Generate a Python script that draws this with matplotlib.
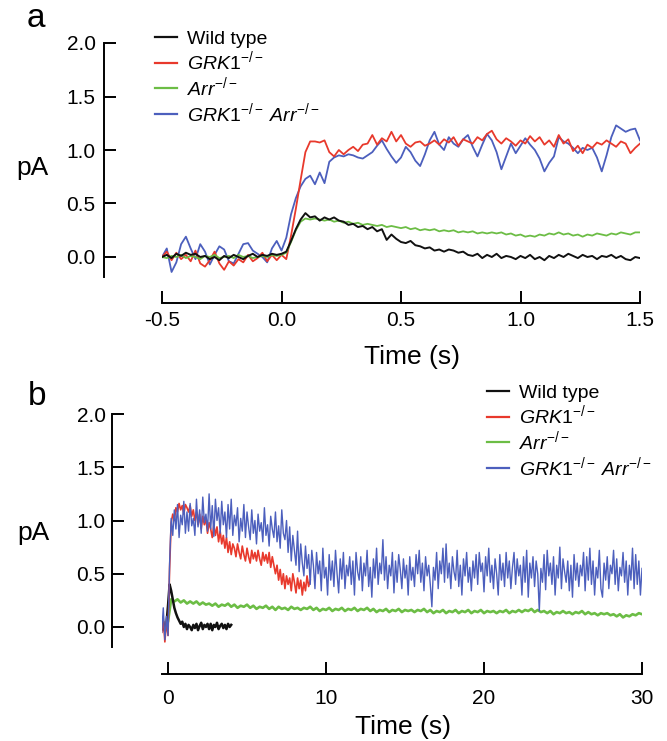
import matplotlib

matplotlib.use("Agg")

import matplotlib.pyplot as plt
import numpy as np
from matplotlib.lines import Line2D

plt.rcParams.update(
    {
        "font.family": ["Liberation Sans", "DejaVu Sans"],
        "mathtext.fontset": "custom",
        "mathtext.rm": "Liberation Sans",
        "mathtext.it": "Liberation Sans:italic",
        "axes.unicode_minus": False,
    }
)

LABELS = ["Wild type", r"$\mathit{GRK1}^{\mathit{-/-}}$", r"$\mathit{Arr}^{\mathit{-/-}}$",
          r"$\mathit{GRK1}^{\mathit{-/-}}\;\mathit{Arr}^{\mathit{-/-}}$"]
COLORS = ["#111111", "#e8392c", "#6cbd45", "#4c5fbd"]

# ---- panel a: -0.5 .. 1.5 s, sampled every 20 ms ----
TIME_A = np.linspace(-0.5, 1.5, 101)
WT_A = [
    0.00, 0.02, -0.01, 0.03, 0.01, 0.04, 0.02, 0.03, 0.00, 0.01,
    -0.02, 0.00, -0.03, 0.01, -0.01, 0.02, 0.00, -0.02, 0.01, 0.03,
    0.00, 0.02, 0.01, 0.03, 0.02, 0.03, 0.05, 0.15, 0.26, 0.35,
    0.41, 0.37, 0.38, 0.34, 0.37, 0.35, 0.37, 0.34, 0.33, 0.30,
    0.31, 0.28, 0.29, 0.26, 0.28, 0.24, 0.26, 0.16, 0.21, 0.17,
    0.14, 0.13, 0.15, 0.11, 0.10, 0.08, 0.09, 0.06, 0.07, 0.05,
    0.07, 0.06, 0.04, 0.05, 0.02, 0.01, 0.03, -0.01, 0.02, 0.00,
    0.03, -0.01, 0.01, 0.00, -0.02, 0.01, -0.01, 0.02, -0.02, 0.00,
    -0.03, 0.01, -0.01, 0.02, 0.00, 0.03, 0.01, -0.01, 0.02, 0.00,
    0.01, -0.02, 0.01, 0.00, 0.02, -0.01, 0.01, -0.02, -0.03, 0.00,
    -0.01,
]
ARR_A = [
    0.00, -0.01, 0.01, 0.00, 0.02, -0.01, 0.01, 0.00, -0.02, 0.01,
    0.00, 0.02, -0.01, 0.00, 0.01, -0.01, 0.02, 0.00, 0.01, -0.01,
    0.00, 0.01, 0.00, 0.02, 0.01, 0.02, 0.04, 0.14, 0.25, 0.33,
    0.36, 0.35, 0.36, 0.35, 0.34, 0.35, 0.33, 0.34, 0.32, 0.33,
    0.31, 0.32, 0.30, 0.31, 0.30, 0.29, 0.30, 0.28, 0.29, 0.28,
    0.27, 0.28, 0.26, 0.27, 0.25, 0.26, 0.25, 0.26, 0.24, 0.25,
    0.24, 0.25, 0.23, 0.24, 0.23, 0.24, 0.22, 0.23, 0.22, 0.23,
    0.22, 0.23, 0.21, 0.22, 0.20, 0.21, 0.19, 0.20, 0.19, 0.21,
    0.20, 0.22, 0.21, 0.23, 0.21, 0.22, 0.20, 0.21, 0.19, 0.21,
    0.20, 0.22, 0.21, 0.20, 0.22, 0.21, 0.23, 0.22, 0.21, 0.23,
    0.23,
]
GRK1_A = [
    0.00, 0.05, -0.03, 0.04, -0.02, 0.02, -0.04, 0.06, -0.06, -0.09,
    -0.03, 0.05, -0.06, -0.12, -0.04, -0.08, -0.02, -0.05, 0.02, -0.04,
    -0.01, 0.04, -0.04, 0.02, -0.03, 0.02, -0.02, 0.20, 0.45, 0.72,
    0.98, 1.08, 1.08, 1.07, 1.09, 0.98, 0.94, 1.00, 0.96, 1.00,
    1.03, 0.99, 1.05, 1.06, 1.14, 1.05, 1.11, 1.08, 1.17, 1.08,
    1.14, 1.06, 1.03, 1.07, 1.08, 1.04, 1.06, 1.09, 1.05, 1.10,
    1.07, 1.12, 1.04, 1.10, 1.08, 1.06, 1.12, 1.09, 1.15, 1.18,
    1.10, 1.06, 1.11, 1.08, 1.04, 1.09, 1.06, 1.13, 1.08, 1.12,
    1.05, 1.09, 1.03, 1.14, 1.06, 1.10, 0.99, 1.04, 0.97, 1.05,
    1.02, 1.07, 1.05, 1.09, 1.06, 1.03, 1.08, 1.06, 0.97, 1.02,
    1.06,
]
DOUBLE_A = [
    0.00, 0.08, -0.14, -0.05, 0.12, 0.19, 0.08, -0.02, 0.12, 0.05,
    -0.07, 0.02, 0.10, 0.07, -0.04, -0.06, 0.03, 0.12, 0.13, 0.06,
    0.03, 0.00, -0.05, 0.08, 0.15, 0.06, 0.18, 0.40, 0.55, 0.66,
    0.73, 0.76, 0.68, 0.79, 0.69, 0.89, 0.93, 0.95, 0.94, 0.96,
    0.95, 0.93, 0.92, 0.95, 0.98, 1.04, 1.09, 1.01, 0.94, 0.88,
    0.93, 1.03, 0.98, 0.90, 0.85, 0.96, 1.09, 1.17, 1.05, 1.00,
    1.12, 1.06, 1.03, 1.10, 1.14, 1.03, 0.94, 1.05, 1.15, 1.09,
    0.98, 0.82, 0.94, 1.06, 0.97, 1.04, 1.11, 1.05, 1.00, 0.92,
    0.80, 0.88, 0.94, 1.12, 1.08, 1.06, 1.02, 0.97, 1.02, 1.00,
    1.02, 0.93, 0.80, 0.95, 1.12, 1.23, 1.20, 1.17, 1.19, 1.20,
    1.09,
]

# ---- panel b: long recordings ----
TIME_B = np.linspace(-0.4, 30.0, 305)       # double knockout, 0.1 s
TIME_B_ARR = np.linspace(-0.4, 30.0, 153)   # Arr-/-, 0.2 s
TIME_B_GRK1 = np.linspace(-0.4, 9.0, 95)    # GRK1-/-, 0.1 s
TIME_B_WT = np.linspace(-0.4, 4.0, 45)      # wild type, 0.1 s
WT_B = [
    -0.02, 0.05, -0.04, 0.03, 0.20, 0.40, 0.34, 0.26, 0.18, 0.13,
    0.09, 0.06, 0.03, 0.05, 0.00, 0.03, -0.02, 0.02, 0.00, -0.03,
    0.02, -0.01, 0.03, -0.03, 0.01, 0.04, -0.02, 0.02, 0.00, 0.03,
    -0.02, 0.03, -0.03, 0.02, 0.00, 0.04, -0.02, 0.01, 0.03, -0.01,
    0.02, -0.02, 0.03, 0.00, 0.02,
]
GRK1_B = [
    -0.05, 0.08, -0.14, 0.05, -0.08, 0.55, 0.98, 1.06, 1.00, 1.12,
    1.08, 1.16, 1.10, 1.14, 1.06, 1.15, 1.12, 1.08, 1.14, 1.04,
    1.10, 1.00, 1.08, 0.96, 1.06, 0.92, 1.04, 0.96, 1.02, 0.88,
    0.98, 0.92, 0.84, 0.96, 0.86, 0.94, 0.80, 0.90, 0.78, 0.86,
    0.74, 0.84, 0.70, 0.80, 0.68, 0.78, 0.74, 0.66, 0.78, 0.70,
    0.64, 0.76, 0.68, 0.62, 0.74, 0.66, 0.60, 0.72, 0.64, 0.70,
    0.62, 0.72, 0.64, 0.58, 0.70, 0.62, 0.68, 0.60, 0.70, 0.56,
    0.66, 0.58, 0.50, 0.58, 0.44, 0.54, 0.40, 0.50, 0.36, 0.48,
    0.40, 0.46, 0.34, 0.50, 0.42, 0.32, 0.46, 0.36, 0.44, 0.30,
    0.42, 0.34, 0.48, 0.38, 0.44,
]
ARR_B = [
    0.02, -0.03, 0.05, 0.26, 0.24, 0.26, 0.23, 0.25, 0.22, 0.24,
    0.22, 0.24, 0.21, 0.23, 0.21, 0.22, 0.20, 0.22, 0.19, 0.21,
    0.20, 0.22, 0.19, 0.21, 0.18, 0.20, 0.19, 0.21, 0.18, 0.20,
    0.17, 0.19, 0.18, 0.20, 0.17, 0.19, 0.16, 0.19, 0.17, 0.18,
    0.16, 0.19, 0.17, 0.18, 0.16, 0.18, 0.17, 0.19, 0.16, 0.18,
    0.15, 0.17, 0.16, 0.18, 0.15, 0.17, 0.16, 0.18, 0.15, 0.17,
    0.16, 0.18, 0.15, 0.17, 0.16, 0.18, 0.15, 0.17, 0.14, 0.16,
    0.15, 0.17, 0.14, 0.16, 0.15, 0.17, 0.14, 0.16, 0.15, 0.16,
    0.14, 0.16, 0.15, 0.17, 0.14, 0.16, 0.13, 0.15, 0.14, 0.16,
    0.13, 0.15, 0.14, 0.16, 0.13, 0.15, 0.14, 0.16, 0.13, 0.15,
    0.14, 0.16, 0.13, 0.15, 0.14, 0.15, 0.13, 0.15, 0.14, 0.16,
    0.13, 0.15, 0.14, 0.16, 0.14, 0.16, 0.15, 0.17, 0.14, 0.16,
    0.14, 0.15, 0.13, 0.15, 0.12, 0.14, 0.13, 0.15, 0.13, 0.14,
    0.12, 0.14, 0.13, 0.15, 0.12, 0.14, 0.12, 0.13, 0.11, 0.13,
    0.12, 0.13, 0.11, 0.12, 0.10, 0.12, 0.09, 0.11, 0.10, 0.12,
    0.11, 0.13, 0.12,
]
DOUBLE_B = [
    -0.05, 0.18, -0.12, 0.10, -0.08, 0.60, 1.02, 0.86, 1.10, 0.92,
    1.15, 0.84, 1.05, 0.96, 1.18, 0.88, 1.08, 0.90, 1.16, 0.95,
    1.02, 0.86, 1.20, 0.94, 1.10, 0.88, 1.22, 0.98, 1.06, 0.90,
    1.25, 0.92, 1.14, 0.85, 1.20, 1.00, 1.12, 0.88, 1.18, 0.96,
    1.08, 0.84, 1.15, 0.92, 1.20, 0.86, 1.05, 0.95, 1.12, 0.80,
    1.02, 0.90, 1.15, 0.84, 1.08, 0.94, 0.82, 1.10, 0.88, 1.00,
    0.78, 1.06, 0.90, 0.98, 0.80, 1.12, 0.86, 0.96, 0.76, 1.04,
    0.92, 0.84, 1.08, 0.80, 0.95, 0.74, 1.10, 0.88, 0.82, 1.00,
    0.70, 0.94, 0.62, 0.86, 0.72, 0.58, 0.90, 0.52, 0.78, 0.60,
    0.48, 0.76, 0.55, 0.68, 0.40, 0.72, 0.58, 0.36, 0.70, 0.50,
    0.62, 0.34, 0.74, 0.46, 0.56, 0.30, 0.68, 0.44, 0.62, 0.38,
    0.72, 0.50, 0.32, 0.64, 0.45, 0.70, 0.36, 0.58, 0.48, 0.66,
    0.40, 0.62, 0.30, 0.70, 0.52, 0.44, 0.66, 0.34, 0.60, 0.48,
    0.72, 0.38, 0.56, 0.28, 0.64, 0.46, 0.74, 0.40, 0.60, 0.50,
    0.82, 0.44, 0.66, 0.36, 0.58, 0.48, 0.70, 0.32, 0.62, 0.42,
    0.68, 0.54, 0.36, 0.64, 0.46, 0.58, 0.30, 0.66, 0.44, 0.56,
    0.38, 0.68, 0.50, 0.72, 0.42, 0.60, 0.34, 0.66, 0.48, 0.58,
    0.40, 0.19, 0.56, 0.44, 0.70, 0.36, 0.62, 0.50, 0.74, 0.42,
    0.78, 0.46, 0.60, 0.36, 0.66, 0.52, 0.44, 0.72, 0.38, 0.58,
    0.30, 0.64, 0.48, 0.70, 0.42, 0.56, 0.34, 0.62, 0.46, 0.68,
    0.40, 0.70, 0.52, 0.60, 0.33, 0.66, 0.48, 0.74, 0.42, 0.58,
    0.36, 0.64, 0.50, 0.30, 0.68, 0.44, 0.60, 0.38, 0.70, 0.46,
    0.62, 0.36, 0.56, 0.70, 0.40, 0.64, 0.48, 0.58, 0.30, 0.66,
    0.42, 0.72, 0.28, 0.60, 0.46, 0.66, 0.38, 0.62, 0.50, 0.15,
    0.55, 0.42, 0.68, 0.35, 0.72, 0.48, 0.60, 0.40, 0.66, 0.30,
    0.58, 0.46, 0.75, 0.36, 0.64, 0.52, 0.42, 0.62, 0.34, 0.58,
    0.28, 0.68, 0.44, 0.60, 0.38, 0.58, 0.48, 0.70, 0.34, 0.66,
    0.44, 0.74, 0.40, 0.62, 0.30, 0.56, 0.46, 0.72, 0.36, 0.28,
    0.60, 0.44, 0.66, 0.36, 0.58, 0.50, 0.72, 0.40, 0.64, 0.34,
    0.56, 0.48, 0.70, 0.42, 0.62, 0.30, 0.58, 0.44, 0.74, 0.36,
    0.68, 0.40, 0.62, 0.30, 0.55,
]

Y_TICKS = [0.0, 0.5, 1.0, 1.5, 2.0]
X_TICKS_A = [-0.5, 0.0, 0.5, 1.0, 1.5]
X_TICKS_B = [0, 10, 20, 30]

W, H = 667, 741


def fx(px):
    return px / W


def fy(py):
    return 1 - py / H


def style(ax, xlim, xticks, xfmt, left_out, bottom_out, xpad, ypad):
    ax.set_xlim(*xlim)
    ax.set_ylim(-0.2, 2.0)
    for side in ("top", "right"):
        ax.spines[side].set_visible(False)
    ax.spines["left"].set_position(("outward", left_out))
    ax.spines["bottom"].set_position(("outward", bottom_out))
    ax.spines["left"].set_bounds(-0.19, 2.0)
    ax.spines["bottom"].set_bounds(*xlim)
    for side in ("left", "bottom"):
        ax.spines[side].set_linewidth(1.4)
    ax.set_yticks(Y_TICKS)
    ax.set_yticklabels([f"{v:.1f}" for v in Y_TICKS])
    ax.set_xticks(xticks)
    ax.set_xticklabels([xfmt.format(v) for v in xticks])
    ax.tick_params(direction="in", length=8.6, width=1.4, labelsize=15)
    ax.tick_params(axis="x", pad=xpad)
    ax.tick_params(axis="y", pad=ypad)
    ax.patch.set_visible(False)


fig = plt.figure(figsize=(6.67, 7.41), dpi=100)

# panel a
ax_a = fig.add_axes([fx(162), fy(278.4), fx(640) - fx(162), fy(43) - fy(278.4)])
ax_a.plot(TIME_A, DOUBLE_A, color=COLORS[3], lw=1.3)
ax_a.plot(TIME_A, GRK1_A, color=COLORS[1], lw=1.3)
ax_a.plot(TIME_A, ARR_A, color=COLORS[2], lw=1.3)
ax_a.plot(TIME_A, WT_A, color=COLORS[0], lw=1.4)
style(ax_a, (-0.5, 1.5), X_TICKS_A, "{:.1f}", 41.8, 17.7, 6.0, 6.0)

# panel b
ax_b = fig.add_axes([fx(161.7), fy(648.3), fx(642) - fx(161.7), fy(414) - fy(648.3)])
ax_b.plot(TIME_B_ARR, ARR_B, color=COLORS[2], lw=1.9)
ax_b.plot(TIME_B_WT, WT_B, color=COLORS[0], lw=1.8)
ax_b.plot(TIME_B_GRK1, GRK1_B, color=COLORS[1], lw=1.2)
ax_b.plot(TIME_B, DOUBLE_B, color=COLORS[3], lw=1.0)
style(ax_b, (-0.4, 30), X_TICKS_B, "{:d}", 35.8, 18.5, 11.0, 4.5)

handles = [Line2D([], [], color=c, lw=1.6) for c in COLORS]
leg_kw = dict(frameon=False, fontsize=14, borderpad=0, borderaxespad=0,
              handlelength=1.15, handletextpad=0.5, labelspacing=0.1,
              loc="upper left", bbox_transform=fig.transFigure)
ax_a.legend(handles, LABELS, bbox_to_anchor=(fx(155), fy(30)), **leg_kw)
ax_b.legend(handles, LABELS, bbox_to_anchor=(fx(487), fy(384)), **leg_kw)

fig.text(fx(27), fy(27), "a", fontsize=24, ha="left", va="baseline")
fig.text(fx(28), fy(405), "b", fontsize=24, ha="left", va="baseline")
fig.text(fx(16), fy(175), "pA", fontsize=19, ha="left", va="baseline")
fig.text(fx(17), fy(540), "pA", fontsize=19, ha="left", va="baseline")
fig.text(fx(412), fy(364), "Time (s)", fontsize=19, ha="center", va="baseline")
fig.text(fx(403), fy(734), "Time (s)", fontsize=19, ha="center", va="baseline")

fig.savefig("out.png", dpi=100)
